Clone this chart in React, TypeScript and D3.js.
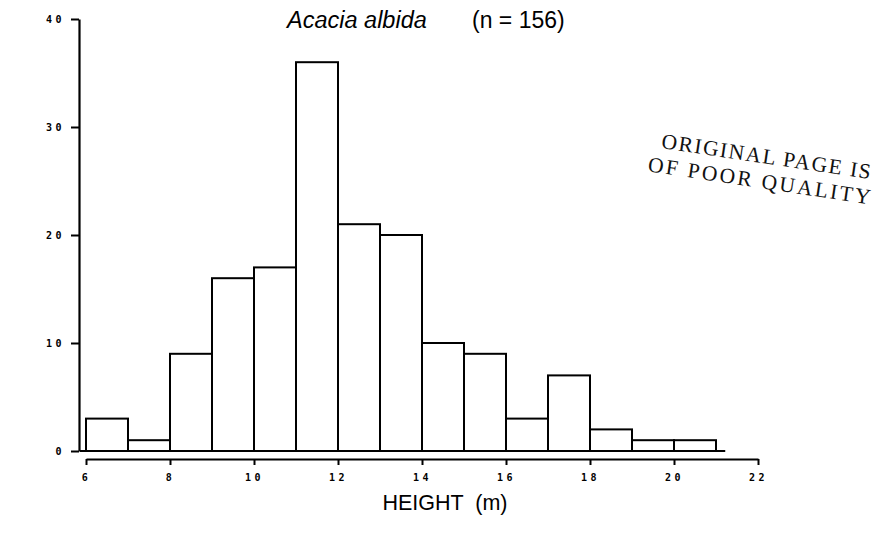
import React, { useEffect, useRef } from "react";
import * as d3 from "d3";

const binStarts = [6, 7, 8, 9, 10, 11, 12, 13, 14, 15, 16, 17, 18, 19, 20];
const counts = [3, 1, 9, 16, 17, 36, 21, 20, 10, 9, 3, 7, 2, 1, 1];
const xTicks = [6, 8, 10, 12, 14, 16, 18, 20, 22];
const yTicks = [0, 10, 20, 30, 40];
const titleSpecies = "Acacia albida";
const titleN = "(n = 156)";
const xLabel = "HEIGHT  (m)";
const stampLines = ["ORIGINAL PAGE IS", "OF POOR QUALITY"];

const W = 886;
const H = 540;

export default function App() {
  const ref = useRef<SVGSVGElement | null>(null);

  useEffect(() => {
    const svg = d3.select(ref.current);
    svg.selectAll("*").remove();

    const x = d3.scaleLinear().domain([6, 22]).range([86, 758]);
    const y = d3.scaleLinear().domain([0, 40]).range([451, 19]);

    const tickFont = "'DejaVu Sans Mono', monospace";

    // bars
    svg
      .append("g")
      .selectAll("rect")
      .data(binStarts)
      .join("rect")
      .attr("x", (d) => x(d))
      .attr("y", (d, i) => y(counts[i]))
      .attr("width", (d) => x(d + 1) - x(d))
      .attr("height", (d, i) => y(0) - y(counts[i]))
      .attr("fill", "#fff")
      .attr("stroke", "#000")
      .attr("stroke-width", 2);

    // baseline
    svg
      .append("line")
      .attr("x1", 80)
      .attr("x2", x(21.22))
      .attr("y1", y(0))
      .attr("y2", y(0))
      .attr("stroke", "#000")
      .attr("stroke-width", 2.2);

    // y axis
    const yAxis = d3
      .axisLeft(y)
      .tickValues(yTicks)
      .tickSize(8)
      .tickSizeOuter(0)
      .tickPadding(6)
      .tickFormat((d) => String(d));
    const gy = svg.append("g").attr("transform", "translate(79,0)").call(yAxis);
    gy.select(".domain").attr("stroke-width", 2.2);
    gy.selectAll(".tick line").attr("stroke-width", 2);
    gy.selectAll("text")
      .attr("font-family", tickFont)
      .attr("font-weight", "bold")
      .attr("font-size", 10)
      .attr("letter-spacing", 3.5)
      .attr("fill", "#000");

    // x axis
    const xAxis = d3
      .axisBottom(x)
      .tickValues(xTicks)
      .tickSize(6)
      .tickSizeOuter(0)
      .tickPadding(9)
      .tickFormat((d) => String(d));
    const gx = svg.append("g").attr("transform", "translate(0,459)").call(xAxis);
    gx.select(".domain").attr("stroke-width", 2);
    gx.selectAll(".tick line").attr("stroke-width", 2);
    gx.selectAll("text")
      .attr("font-family", tickFont)
      .attr("font-weight", "bold")
      .attr("font-size", 10)
      .attr("letter-spacing", 3.5)
      .attr("fill", "#000");

    // title
    svg
      .append("text")
      .attr("x", 287)
      .attr("y", 28)
      .attr("font-family", "'Liberation Sans', Arial, sans-serif")
      .attr("font-style", "italic")
      .attr("font-size", 23.5)
      .attr("fill", "#000")
      .text(titleSpecies);
    svg
      .append("text")
      .attr("x", 472)
      .attr("y", 28)
      .attr("font-family", "'Liberation Sans', Arial, sans-serif")
      .attr("font-size", 23)
      .attr("fill", "#000")
      .text(titleN);

    // x label
    svg
      .append("text")
      .attr("x", 445)
      .attr("y", 510)
      .attr("text-anchor", "middle")
      .attr("font-family", "'Liberation Sans', Arial, sans-serif")
      .attr("font-size", 21.5)
      .attr("fill", "#000")
      .attr("xml:space", "preserve")
      .style("white-space", "pre")
      .text(xLabel);

    // stamp
    const stamp = svg
      .append("g")
      .attr("transform", "translate(662,140) rotate(8.5)");
    stamp
      .selectAll("text")
      .data(stampLines)
      .join("text")
      .attr("x", (d, i) => (i === 0 ? 0 : -10))
      .attr("y", (d, i) => i * 25 + 8)
      .attr("font-family", "'Liberation Serif', 'DejaVu Serif', serif")
      .attr("font-size", 21.5)
      .attr("letter-spacing", (d, i) => (i === 0 ? 1.6 : 2.4))
      .attr("fill", "#111")
      .text((d) => d);
  }, []);

  return (
    <svg
      ref={ref}
      width={W}
      height={H}
      style={{ position: "absolute", left: 0, top: 0, background: "#fff" }}
    />
  );
}
